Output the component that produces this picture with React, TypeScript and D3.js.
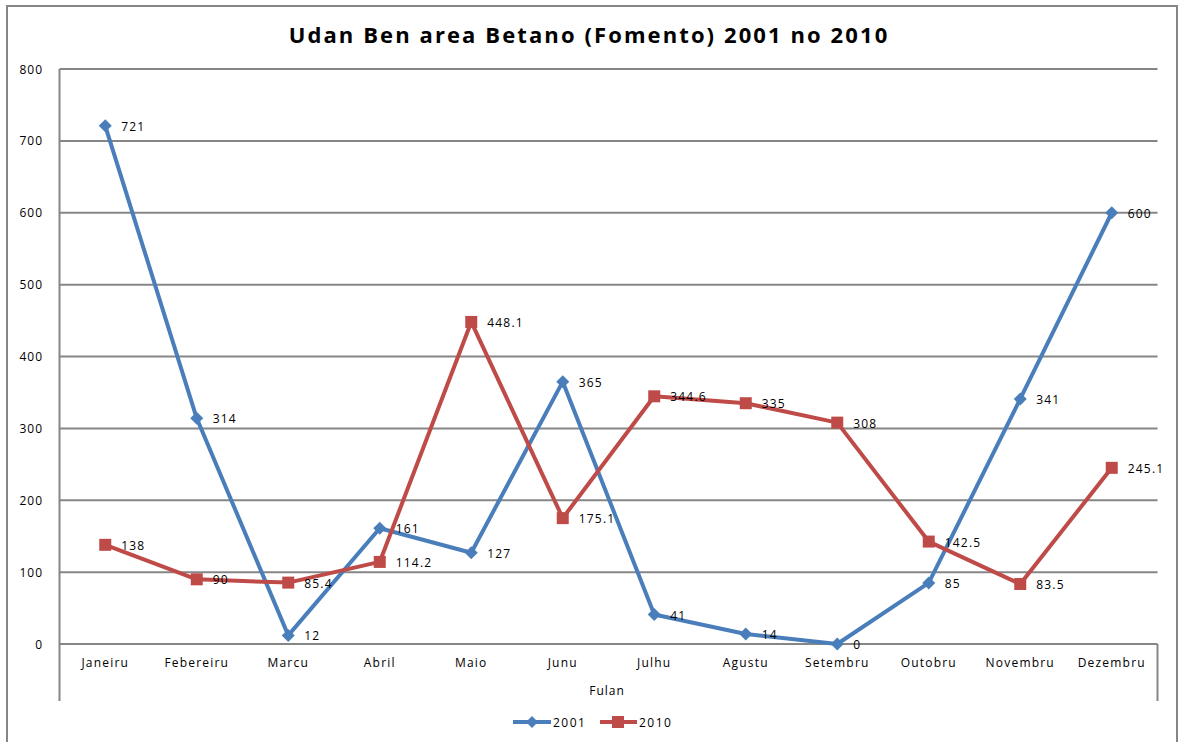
import React from "react";
import * as d3 from "d3";

const months = ["Janeiru","Febereiru","Marcu","Abril","Maio","Junu","Julhu","Agustu","Setembru","Outobru","Novembru","Dezembru"];
const values2001 = [721, 314, 12, 161, 127, 365, 41, 14, 0, 85, 341, 600];
const values2010 = [138, 90, 85.4, 114.2, 448.1, 175.1, 344.6, 335, 308, 142.5, 83.5, 245.1];
const yTicks = [0, 100, 200, 300, 400, 500, 600, 700, 800];
const title = "Udan Ben area Betano (Fomento) 2001 no 2010";
const xTitle = "Fulan";
const seriesNames = ["2001", "2010"];

const W = 1178, H = 742;
const left = 59.5, right = 1157.5, top = 69, bottom = 644;
const BLUE = "#4A7EBB", RED = "#BE4B48", GRID = "#868686";
const FONT = "'Open Sans', sans-serif";

export default function App() {
  const x = d3.scaleBand<string>().domain(months).range([left, right]);
  const y = d3.scaleLinear().domain([0, 800]).range([bottom, top]);
  const cx = (m: string) => (x(m) as number) + x.bandwidth() / 2;
  const line = d3.line<number>().x((_, i) => cx(months[i])).y((d) => y(d));
  const diamond = (px: number, py: number, s: number) =>
    `M${px},${py - s}L${px + s},${py}L${px},${py + s}L${px - s},${py}Z`;

  return (
    <svg width={W} height={H} style={{ position: "absolute", left: 0, top: 0, background: "#fff" }}>
      <rect x={7} y={6} width={1170} height={760} fill="#fff" stroke={GRID} strokeWidth={2} />
      <text x={589} y={43} textAnchor="middle" fontFamily={FONT} fontWeight="bold" fontSize={22} letterSpacing={2.1} fill="#000">{title}</text>
      {yTicks.map((t) => (
        <g key={t}>
          <line x1={left} x2={right} y1={y(t)} y2={y(t)} stroke={GRID} strokeWidth={2} />
          <text x={43} y={y(t) + 4.5} textAnchor="end" fontFamily={FONT} fontSize={12} letterSpacing={1} fill="#000">{t}</text>
        </g>
      ))}
      <line x1={left} x2={left} y1={top} y2={701} stroke={GRID} strokeWidth={2} />
      <line x1={right} x2={right} y1={bottom} y2={701} stroke={GRID} strokeWidth={2} />
      {months.map((m) => (
        <text key={m} x={cx(m)} y={667} textAnchor="middle" fontFamily={FONT} fontSize={12} letterSpacing={1.2} fill="#000">{m}</text>
      ))}
      <text x={607} y={695} textAnchor="middle" fontFamily={FONT} fontSize={12} letterSpacing={1} fill="#000">{xTitle}</text>

      <path d={line(values2001) || ""} fill="none" stroke={BLUE} strokeWidth={4} strokeLinejoin="round" />
      <path d={line(values2010) || ""} fill="none" stroke={RED} strokeWidth={4} strokeLinejoin="round" />
      {values2001.map((v, i) => (
        <path key={"d" + i} d={diamond(cx(months[i]), y(v), 6.5)} fill={BLUE} />
      ))}
      {values2010.map((v, i) => (
        <rect key={"s" + i} x={cx(months[i]) - 6} y={y(v) - 6} width={12} height={12} fill={RED} />
      ))}
      {values2001.map((v, i) => (
        <text key={"l1" + i} x={cx(months[i]) + 16} y={y(v) + 5} fontFamily={FONT} fontSize={12} letterSpacing={1.2} fill="#000">{v}</text>
      ))}
      {values2010.map((v, i) => (
        <text key={"l2" + i} x={cx(months[i]) + 16} y={y(v) + 5} fontFamily={FONT} fontSize={12} letterSpacing={1.2} fill="#000">{v}</text>
      ))}

      <line x1={513} x2={551} y1={722} y2={722} stroke={BLUE} strokeWidth={4} />
      <path d={diamond(532, 722, 6)} fill={BLUE} />
      <text x={553} y={727} fontFamily={FONT} fontSize={12} letterSpacing={1.5} fill="#000">{seriesNames[0]}</text>
      <line x1={600} x2={637} y1={722} y2={722} stroke={RED} strokeWidth={4} />
      <rect x={612} y={716} width={12} height={12} fill={RED} />
      <text x={639} y={727} fontFamily={FONT} fontSize={12} letterSpacing={1.5} fill="#000">{seriesNames[1]}</text>
    </svg>
  );
}
